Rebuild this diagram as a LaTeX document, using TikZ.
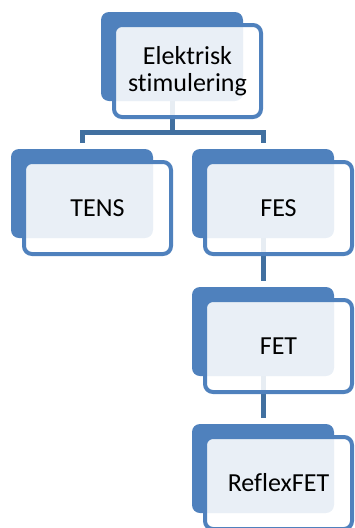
\documentclass[tikz,border=0pt]{standalone}
\usepackage{fontspec}
\setmainfont{Carlito}[Ligatures=NoCommon]
\usepackage{tikz}
\usepackage{xcolor}

\definecolor{boxblue}{RGB}{79,129,189}
\definecolor{linkblue}{RGB}{65,112,160}

\begin{document}
\begin{tikzpicture}[x=1pt, y=-1pt,
  back/.style={rectangle, rounded corners=8pt, fill=boxblue, anchor=north west,
    minimum width=142pt, minimum height=89pt, inner sep=0pt, outer sep=0pt},
  front/.style={rectangle, rounded corners=8pt, draw=boxblue, line width=4pt,
    fill=white, fill opacity=0.88, text opacity=1, anchor=north west,
    minimum width=147pt, minimum height=92pt, inner sep=0pt, outer sep=0pt,
    align=center, font=\fontsize{26}{26.5}\selectfont},
  link/.style={draw=linkblue, line width=5pt, shorten >=6pt}]
\clip (0,0) rectangle (354,528);

% back blocks
\node[back] (topback) at (101,12) {};
\node[back] (tensback) at (11,149) {};
\node[back] (fesback) at (192,149) {};
\node[back] (fetback) at (192,287) {};
\node[back] (reflexback) at (192,424) {};

% connectors
\draw[link] (topback.south) -- ++(0,31) -| (tensback.north);
\draw[link] (topback.south) -- ++(0,31) -| (fesback.north);
\draw[link] (fesback.south) -- (fetback.north);
\draw[link] (fetback.south) -- (reflexback.north);

% front blocks with text
\node[front] (top) at (114,25) {Elektrisk\\stimulering};
\node[front] (tens) at (24,162) {TENS};
\node[front] (fes) at (205,162) {FES};
\node[front] (fet) at (205,300) {FET};
\node[front] (reflex) at (205,437) {ReflexFET};
\end{tikzpicture}
\end{document}
